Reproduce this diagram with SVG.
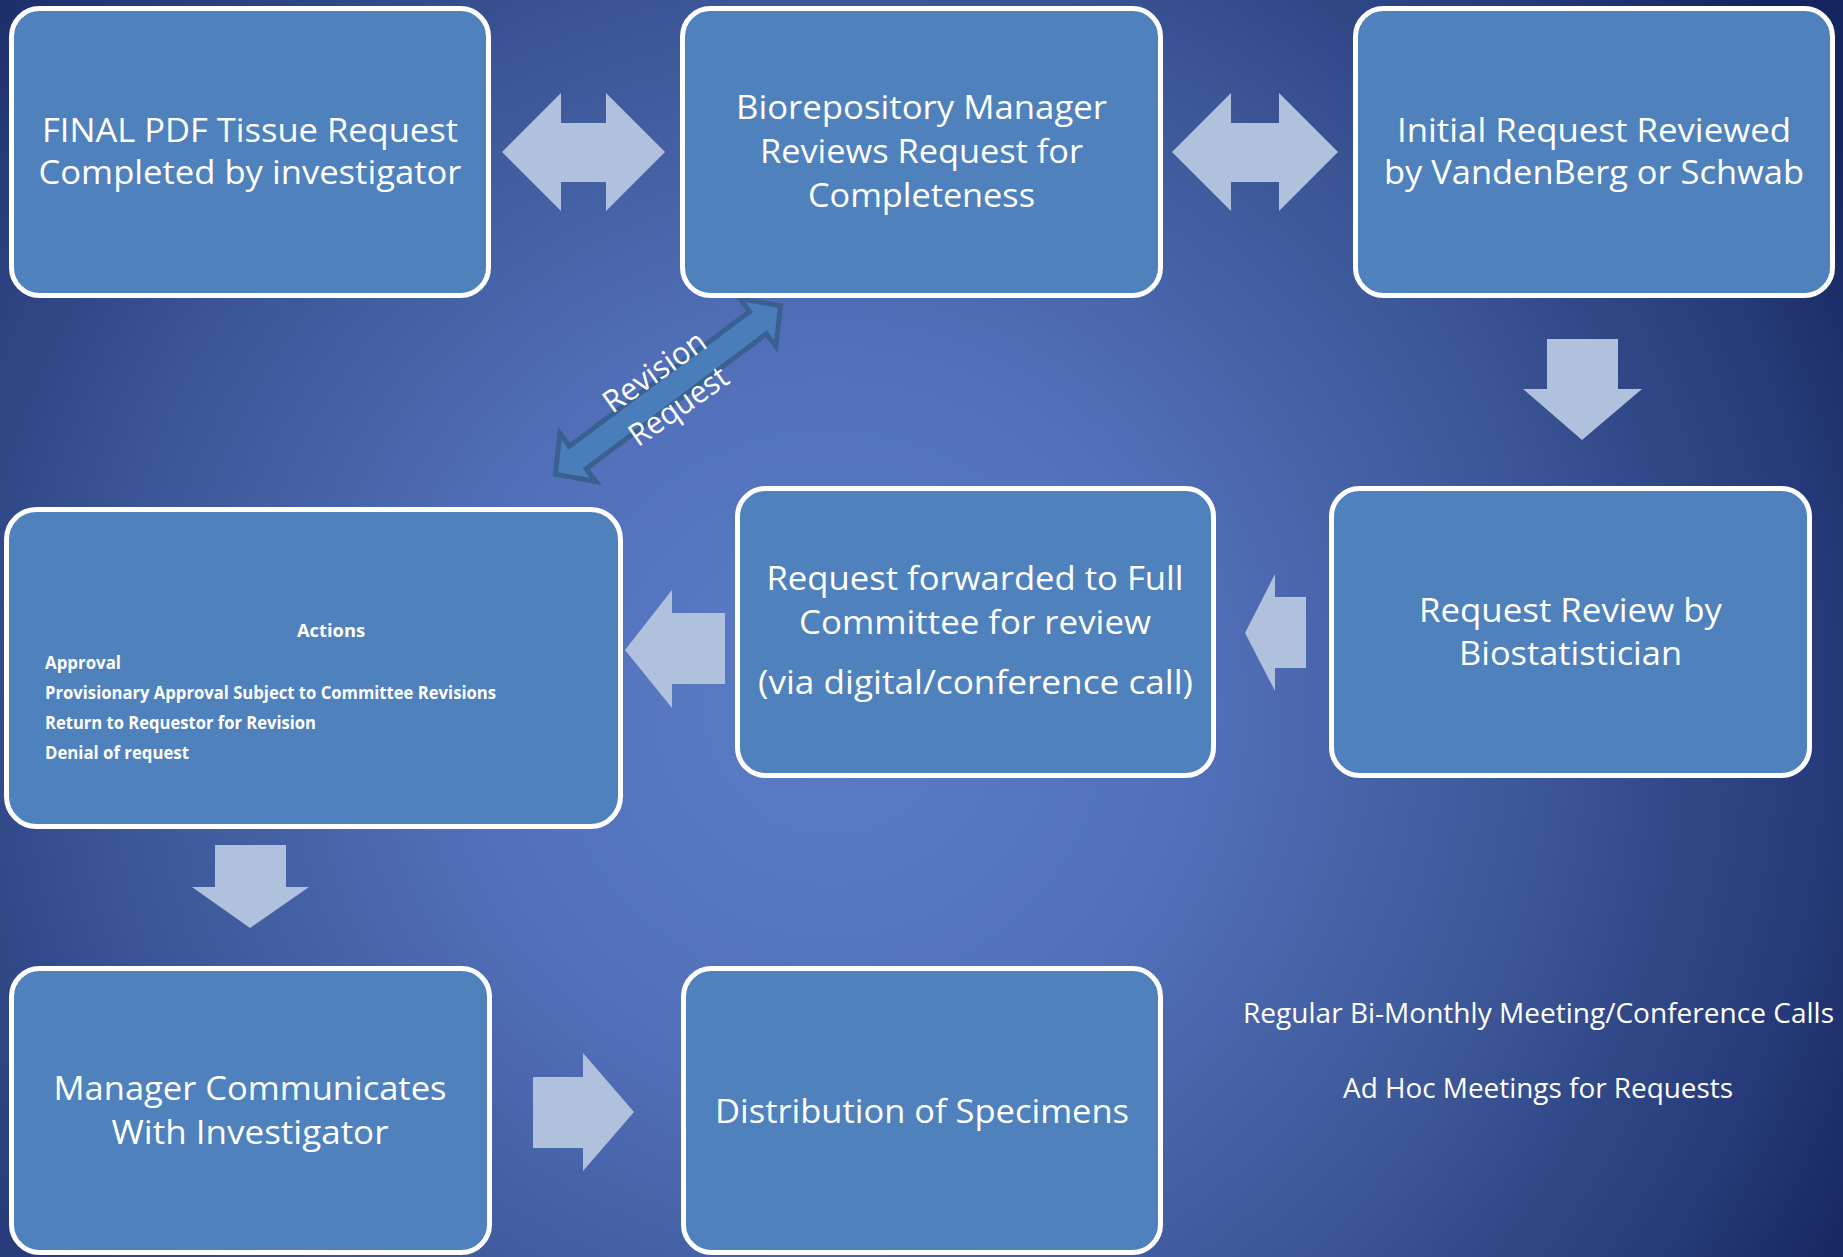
<svg xmlns="http://www.w3.org/2000/svg" width="1843" height="1257" viewBox="0 0 1843 1257">
<defs>
<radialGradient id="bg" gradientUnits="userSpaceOnUse" cx="830" cy="710" r="1160">
<stop offset="0" stop-color="#5b7cc6"/>
<stop offset="0.3" stop-color="#5371bb"/>
<stop offset="0.6" stop-color="#3d5898"/>
<stop offset="0.85" stop-color="#273b7a"/>
<stop offset="1" stop-color="#15255f"/>
</radialGradient>
<style>
.box{fill:#4f81bd;stroke:#ffffff;stroke-width:5}
.t{font-family:"Open Sans","Noto Sans",sans-serif;font-size:33px;fill:#ffffff;text-anchor:middle}
.b{font-family:"Open Sans","Noto Sans",sans-serif;font-size:18px;font-weight:bold;fill:#ffffff}
.f{font-family:"Open Sans","Noto Sans",sans-serif;font-size:28px;fill:#ffffff;text-anchor:middle}
.r{font-family:"Open Sans","Noto Sans",sans-serif;font-size:31px;fill:#ffffff;text-anchor:middle}
.c{fill:#b0c1dd}
.rev{fill:#4a7ebb;stroke:#3a6090;stroke-width:5;stroke-linejoin:miter}
</style>
</defs>
<rect x="0" y="0" width="1843" height="1257" fill="url(#bg)"/>

<g id="connectors">
<polygon class="c" points="502,152 561,93 561,123 606,123 606,93 665,152 606,211 606,182 561,182 561,211"/>
<polygon class="c" points="1172,152 1231,93 1231,123 1279,123 1279,93 1338,152 1279,211 1279,182 1231,182 1231,211"/>
<polygon class="c" points="1547,339 1618,339 1618,389 1642,389 1582,440 1523,389 1547,389"/>
<polygon class="c" points="1245,633 1275,574 1275,597 1306,597 1306,668 1275,668 1275,691"/>
<polygon class="c" points="625,650 672,590 672,613 725,613 725,684 672,684 672,708"/>
<polygon class="c" points="215,845 286,845 286,887 309,887 250,928 192,887 215,887"/>
<polygon class="c" points="533,1077 583,1077 583,1053 634,1112 583,1171 583,1148 533,1148"/>
<g id="revision-arrow">
<polygon class="rev" transform="translate(553,476) rotate(-36.8)" points="3,0 31,-30 31,-14 256,-14 256,-30 284,0 256,30 256,14 31,14 31,30"/>
<g transform="translate(668,391) rotate(-35)">
<text class="r" x="0" y="-13" textLength="118" lengthAdjust="spacingAndGlyphs">Revision</text>
<text class="r" x="0" y="29" textLength="114" lengthAdjust="spacingAndGlyphs">Request</text>
</g>
</g>
</g>

<g id="n1">
<rect class="box" x="11.5" y="8.5" width="477" height="287" rx="28"/>
<text class="t" x="250" y="142" textLength="416" lengthAdjust="spacingAndGlyphs">FINAL PDF Tissue Request</text>
<text class="t" x="250" y="184" textLength="423" lengthAdjust="spacingAndGlyphs">Completed by investigator</text>
</g>
<g id="n2">
<rect class="box" x="682.5" y="8.5" width="478" height="287" rx="28"/>
<text class="t" x="921.5" y="119" textLength="371" lengthAdjust="spacingAndGlyphs">Biorepository Manager</text>
<text class="t" x="921.5" y="163" textLength="323" lengthAdjust="spacingAndGlyphs">Reviews Request for</text>
<text class="t" x="921.5" y="207" textLength="227" lengthAdjust="spacingAndGlyphs">Completeness</text>
</g>
<g id="n3">
<rect class="box" x="1355.5" y="8.5" width="477" height="287" rx="28"/>
<text class="t" x="1594" y="142" textLength="394" lengthAdjust="spacingAndGlyphs">Initial Request Reviewed</text>
<text class="t" x="1594" y="184" textLength="420" lengthAdjust="spacingAndGlyphs">by VandenBerg or Schwab</text>
</g>
<g id="n4">
<rect class="box" x="6.5" y="509.5" width="614" height="317" rx="30"/>
<text class="b" x="331" y="637" text-anchor="middle" textLength="68" lengthAdjust="spacingAndGlyphs">Actions</text>
<text class="b" x="45" y="669" textLength="76" lengthAdjust="spacingAndGlyphs">Approval</text>
<text class="b" x="45" y="699" textLength="451" lengthAdjust="spacingAndGlyphs">Provisionary Approval Subject to Committee Revisions</text>
<text class="b" x="45" y="729" textLength="271" lengthAdjust="spacingAndGlyphs">Return to Requestor for Revision</text>
<text class="b" x="45" y="759" textLength="144" lengthAdjust="spacingAndGlyphs">Denial of request</text>
</g>
<g id="n5">
<rect class="box" x="737.5" y="488.5" width="476" height="287" rx="28"/>
<text class="t" x="975" y="590" textLength="417" lengthAdjust="spacingAndGlyphs">Request forwarded to Full</text>
<text class="t" x="975" y="634" textLength="352" lengthAdjust="spacingAndGlyphs">Committee for review</text>
<text class="t" x="975.5" y="694" textLength="435" lengthAdjust="spacingAndGlyphs">(via digital/conference call)</text>
</g>
<g id="n6">
<rect class="box" x="1331.5" y="488.5" width="478" height="287" rx="28"/>
<text class="t" x="1570.5" y="622" textLength="303" lengthAdjust="spacingAndGlyphs">Request Review by</text>
<text class="t" x="1570.5" y="665" textLength="223" lengthAdjust="spacingAndGlyphs">Biostatistician</text>
</g>
<g id="n7">
<rect class="box" x="11.5" y="968.5" width="478" height="284" rx="28"/>
<text class="t" x="250" y="1100" textLength="393" lengthAdjust="spacingAndGlyphs">Manager Communicates</text>
<text class="t" x="250" y="1144" textLength="277" lengthAdjust="spacingAndGlyphs">With Investigator</text>
</g>
<g id="n8">
<rect class="box" x="683.5" y="968.5" width="477" height="284" rx="28"/>
<text class="t" x="922" y="1123" textLength="414" lengthAdjust="spacingAndGlyphs">Distribution of Specimens</text>
</g>
<g id="notes">
<text class="f" x="1538.5" y="1023" textLength="591" lengthAdjust="spacingAndGlyphs">Regular Bi-Monthly Meeting/Conference Calls</text>
<text class="f" x="1538" y="1098" textLength="390" lengthAdjust="spacingAndGlyphs">Ad Hoc Meetings for Requests</text>
</g>
</svg>
